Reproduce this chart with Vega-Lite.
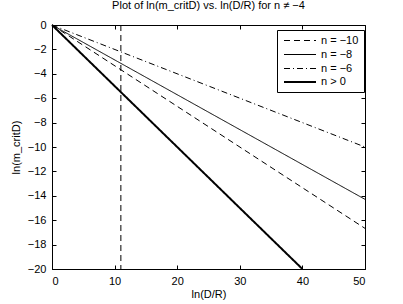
{
  "$schema": "https://vega.github.io/schema/vega-lite/v6.json",
  "autosize": "none",
  "width": 313,
  "height": 244,
  "padding": {"left": 52, "top": 25, "right": 38, "bottom": 35},
  "background": "white",
  "config": {
    "font": "Liberation Sans",
    "view": {"stroke": "black", "strokeWidth": 1},
    "axis": {
      "grid": false,
      "domainColor": "black",
      "tickColor": "black",
      "labelColor": "black",
      "titleColor": "black",
      "labelFont": "Liberation Sans",
      "titleFont": "Liberation Sans",
      "labelFontSize": 11,
      "titleFontSize": 11,
      "titleFontWeight": "normal",
      "tickSize": 4,
      "labelPadding": 4
    },
    "legend": {
      "labelFont": "Liberation Sans",
      "labelFontSize": 11,
      "labelColor": "black"
    }
  },
  "title": {
    "text": "Plot of ln(m_critD) vs. ln(D/R) for n ≠ −4",
    "fontSize": 11,
    "fontWeight": "normal",
    "font": "Liberation Sans",
    "color": "black",
    "offset": 8
  },
  "datasets": {
    "lines": [
      {"series": "n = −10", "x": 0, "y": 0},
      {"series": "n = −10", "x": 50, "y": -16.67},
      {"series": "n = −8", "x": 0, "y": 0},
      {"series": "n = −8", "x": 50, "y": -14.29},
      {"series": "n = −6", "x": 0, "y": 0},
      {"series": "n = −6", "x": 50, "y": -10},
      {"series": "n > 0", "x": 0, "y": 0},
      {"series": "n > 0", "x": 40, "y": -20}
    ],
    "ref": [{"x": 11}]
  },
  "layer": [
    {
      "data": {"name": "ref"},
      "mark": {"type": "rule", "color": "black", "strokeDash": [6, 4], "strokeWidth": 1},
      "encoding": {
        "x": {"field": "x", "type": "quantitative", "scale": {"domain": [0, 50], "nice": false},
          "axis": {"title": "ln(D/R)", "values": [0, 10, 20, 30, 40, 50], "ticks": false, "labelPadding": 6, "titlePadding": 2}}
      }
    },
    {
      "data": {"name": "lines"},
      "mark": {"type": "line", "color": "black"},
      "encoding": {
        "x": {"field": "x", "type": "quantitative", "scale": {"domain": [0, 50], "nice": false}, "axis": null},
        "y": {"field": "y", "type": "quantitative", "scale": {"domain": [-20, 0], "nice": false},
          "axis": {"title": "ln(m_critD)", "values": [-20, -18, -16, -14, -12, -10, -8, -6, -4, -2, 0], "ticks": false, "labelPadding": 6, "titlePadding": 6}},
        "detail": {"field": "series"},
        "strokeDash": {"field": "series", "type": "nominal",
          "scale": {"domain": ["n = −10", "n = −8", "n = −6", "n > 0"], "range": [[6, 4], [1, 0], [6, 3, 1, 3], [1, 0]]},
          "legend": {"title": null, "orient": "none", "legendX": 225, "legendY": 5, "strokeColor": "black", "fillColor": "white", "padding": 5, "symbolType": "M-3.2,0H3.2", "symbolSize": 100, "symbolOffset": 12, "symbolStrokeColor": "black", "rowPadding": 2, "labelOffset": 15}},
        "strokeWidth": {"field": "series", "type": "nominal",
          "scale": {"type": "ordinal", "domain": ["n = −10", "n = −8", "n = −6", "n > 0"], "range": [1, 1, 1, 2]},
          "legend": {"title": null, "orient": "none", "legendX": 225, "legendY": 5, "strokeColor": "black", "fillColor": "white", "padding": 5, "symbolType": "M-3.2,0H3.2", "symbolSize": 100, "symbolOffset": 12, "symbolStrokeColor": "black", "rowPadding": 2, "labelOffset": 15}}
      }
    },
    {
      "data": {"name": "ref"},
      "mark": {"type": "point", "opacity": 0},
      "encoding": {
        "x": {"field": "x", "type": "quantitative", "scale": {"domain": [0, 50], "nice": false},
          "axis": {"orient": "top", "offset": -244, "labels": false, "title": null, "domain": false, "values": [0, 10, 20, 30, 40, 50]}},
        "y": {"datum": 0, "type": "quantitative", "scale": {"domain": [-20, 0], "nice": false},
          "axis": {"orient": "right", "offset": -313, "labels": false, "title": null, "domain": false, "values": [-20, -18, -16, -14, -12, -10, -8, -6, -4, -2, 0]}}
      }
    },
    {
      "data": {"name": "ref"},
      "mark": {"type": "point", "opacity": 0},
      "encoding": {
        "x": {"field": "x", "type": "quantitative", "scale": {"domain": [0, 50], "nice": false},
          "axis": {"orient": "bottom", "offset": -244, "labels": false, "title": null, "domain": false, "values": [0, 10, 20, 30, 40, 50]}},
        "y": {"datum": 0, "type": "quantitative", "scale": {"domain": [-20, 0], "nice": false},
          "axis": {"orient": "left", "offset": -313, "labels": false, "title": null, "domain": false, "values": [-20, -18, -16, -14, -12, -10, -8, -6, -4, -2, 0]}}
      }
    }
  ],
  "resolve": {"axis": {"x": "independent", "y": "independent"}}
}
